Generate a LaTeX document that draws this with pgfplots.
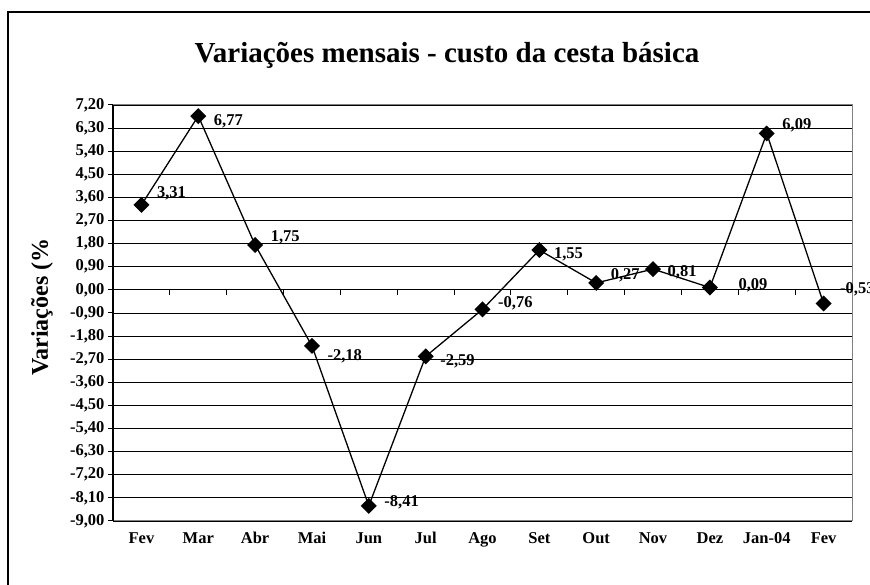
\documentclass[border=0pt]{standalone}
\usepackage{pgfplots}
\pgfplotsset{compat=1.18}
\usepackage{pgfplotstable}
\usepackage{fontspec}
\setmainfont{Liberation Serif}

\pgfplotstableread{
x y lab dx dy
0 3.31 3,31 15 12
1 6.77 6,77 15 -5
2 1.75 1,75 15 8
3 -2.18 -2,18 15 -10
4 -8.41 -8,41 15 4
5 -2.59 -2,59 14 -5
6 -0.76 -0,76 15 6
7 1.55 1,55 14 -4
8 0.27 0,27 14 8
9 0.81 0,81 14 -3
10 0.09 0,09 28 2
11 6.09 6,09 15 8
12 -0.53 -0,53 16 14
}\data

\begin{document}
\begin{tikzpicture}[x=1pt,y=1pt]
\useasboundingbox (0,0) rectangle (870,585);
\fill[white] (0,0) rectangle (870,585);
\draw[black, line width=1.5pt] (8,-20) -- (8,573) -- (900,573);
\node[font=\fontsize{29}{33}\selectfont\bfseries, anchor=base] at (447,522) {Variações mensais - custo da cesta básica};
\node[rotate=90, font=\fontsize{24}{28}\selectfont\bfseries] at (42,278) {Variações (\%};
\begin{axis}[
  at={(113pt,64pt)}, anchor=south west, scale only axis,
  width=739pt, height=416pt,
  xmin=-0.5, xmax=12.5, ymin=-9, ymax=7.2,
  xtick={0,...,12},
  xticklabels={Fev,Mar,Abr,Mai,Jun,Jul,Ago,Set,Out,Nov,Dez,Jan-04,Fev},
  xtick style={draw=none},
  xticklabel style={font=\fontsize{16.5}{18}\selectfont\bfseries, yshift=-3pt},
  ytick={-9,-8.1,-7.2,-6.3,-5.4,-4.5,-3.6,-2.7,-1.8,-0.9,0,0.9,1.8,2.7,3.6,4.5,5.4,6.3,7.2},
  ytick pos=left,
  yticklabel style={font=\fontsize{16.5}{18}\selectfont\bfseries,
    /pgf/number format/.cd, fixed, fixed zerofill, precision=2, use comma, assume math mode=true},
  ymajorgrids,
  grid style={black, line width=0.9pt},
  axis line style={gray, line width=1pt},
  tick align=outside, major tick length=5pt,
  ytick style={black, line width=1pt},
  clip=false,
]
\draw[black, line width=1.2pt] (rel axis cs:0,0) -- (rel axis cs:0,1);
\draw[black, line width=1.2pt] (axis cs:-0.5,0) -- (axis cs:12.5,0);
\pgfplotsinvokeforeach{0.5,1.5,...,11.5}{\draw[black, line width=1pt] (axis cs:#1,0) -- (axis cs:#1,-0.2);}
\addplot[black, line width=1.3pt, mark=square*, mark size=5pt,
  mark options={rotate=45, fill=black, solid},
  nodes near coords, point meta=explicit symbolic,
  visualization depends on={\thisrow{dx} \as \dx},
  visualization depends on={\thisrow{dy} \as \dy},
  every node near coord/.append style={anchor=west, xshift=\dx pt, yshift=\dy pt,
    font=\fontsize{16.5}{18}\selectfont\bfseries, inner sep=0pt}]
  table[x=x, y=y, meta=lab] {\data};
\end{axis}
\end{tikzpicture}
\end{document}
